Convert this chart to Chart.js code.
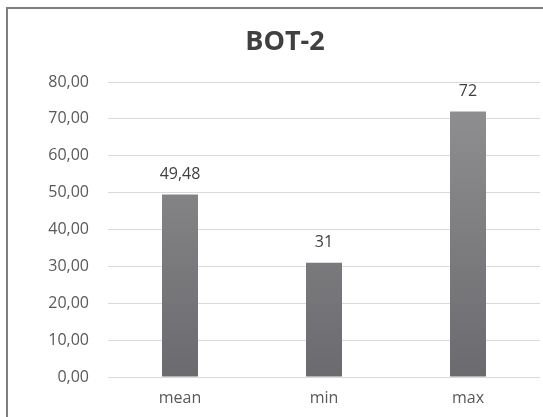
<!DOCTYPE html>
<html>
<head>
<meta charset="utf-8">
<script src="https://cdn.jsdelivr.net/npm/chart.js@4.4.1/dist/chart.umd.min.js"></script>
<style>
  html, body { margin: 0; padding: 0; background: #fff; overflow: hidden; }
  #wrap { position: relative; width: 543px; height: 417px; }
  #frame { position: absolute; left: 6px; top: 7px; width: 600px; height: 500px;
           border: 2px solid #7f7f7f; box-sizing: border-box; pointer-events: none; }
  canvas { position: absolute; left: 0; top: 0; }
</style>
</head>
<body>
<div id="wrap">
  <canvas id="c" width="543" height="417"></canvas>
  <div id="frame"></div>
</div>
<script>
const chartTitle = 'BOT-2';
const categories = ['mean', 'min', 'max'];
const values = [49.48, 31, 72];
const yTicks = [0, 10, 20, 30, 40, 50, 60, 70, 80];

const fmtTick = v => v.toFixed(2).replace('.', ',');
const fmtValue = v => Number.isInteger(v) ? String(v) : String(v).replace('.', ',');

// Title centred over the full chart frame (which runs past the right edge)
const frameTitle = {
  id: 'frameTitle',
  afterDraw(chart) {
    const ctx = chart.ctx;
    ctx.save();
    ctx.font = 'bold 27px "Open Sans", sans-serif';
    ctx.fillStyle = '#404040';
    ctx.textAlign = 'center';
    ctx.textBaseline = 'middle';
    ctx.fillText(chartTitle, 285, 42);
    ctx.restore();
  }
};

// Writes each bar's value just above it
const valueLabels = {
  id: 'valueLabels',
  afterDatasetsDraw(chart) {
    const ctx = chart.ctx;
    const meta = chart.getDatasetMeta(0);
    ctx.save();
    ctx.font = '16px "Open Sans", sans-serif';
    ctx.fillStyle = '#404040';
    ctx.textAlign = 'center';
    ctx.textBaseline = 'middle';
    meta.data.forEach((bar, i) => {
      ctx.fillText(fmtValue(chart.data.datasets[0].data[i]), bar.x, bar.y - 20);
    });
    ctx.restore();
  }
};

function barGradient(context) {
  const area = context.chart.chartArea;
  if (!area) return '#7d7d80';
  const g = context.chart.ctx.createLinearGradient(0, area.top, 0, area.bottom);
  g.addColorStop(0, '#929294');
  g.addColorStop(1, '#6b6b6f');
  return g;
}

new Chart(document.getElementById('c'), {
  type: 'bar',
  data: {
    labels: categories,
    datasets: [{
      data: values,
      backgroundColor: barGradient,
      borderWidth: 0,
      barPercentage: 0.5,
      categoryPercentage: 0.5
    }]
  },
  options: {
    responsive: false,
    animation: false,
    layout: { padding: { left: 0, right: 3, top: 82, bottom: 0 } },
    plugins: {
      legend: { display: false },
      tooltip: { enabled: false },
      title: { display: false }
    },
    scales: {
      x: {
        grid: { display: false, drawTicks: false },
        border: { display: false },
        ticks: { color: '#595959', font: { family: '"Open Sans", sans-serif', size: 16 }, padding: 12 },
        afterFit: s => { s.height = 40; }
      },
      y: {
        min: 0, max: 80,
        afterBuildTicks: s => { s.ticks = yTicks.map(v => ({ value: v })); },
        grid: { color: '#d9d9d9', lineWidth: 1, drawTicks: false },
        border: { display: false },
        ticks: {
          color: '#595959',
          font: { family: '"Open Sans", sans-serif', size: 16 },
          padding: 19,
          callback: v => fmtTick(v)
        },
        afterFit: s => { s.width = 108; }
      }
    }
  },
  plugins: [valueLabels, frameTitle]
});
</script>
</body>
</html>
